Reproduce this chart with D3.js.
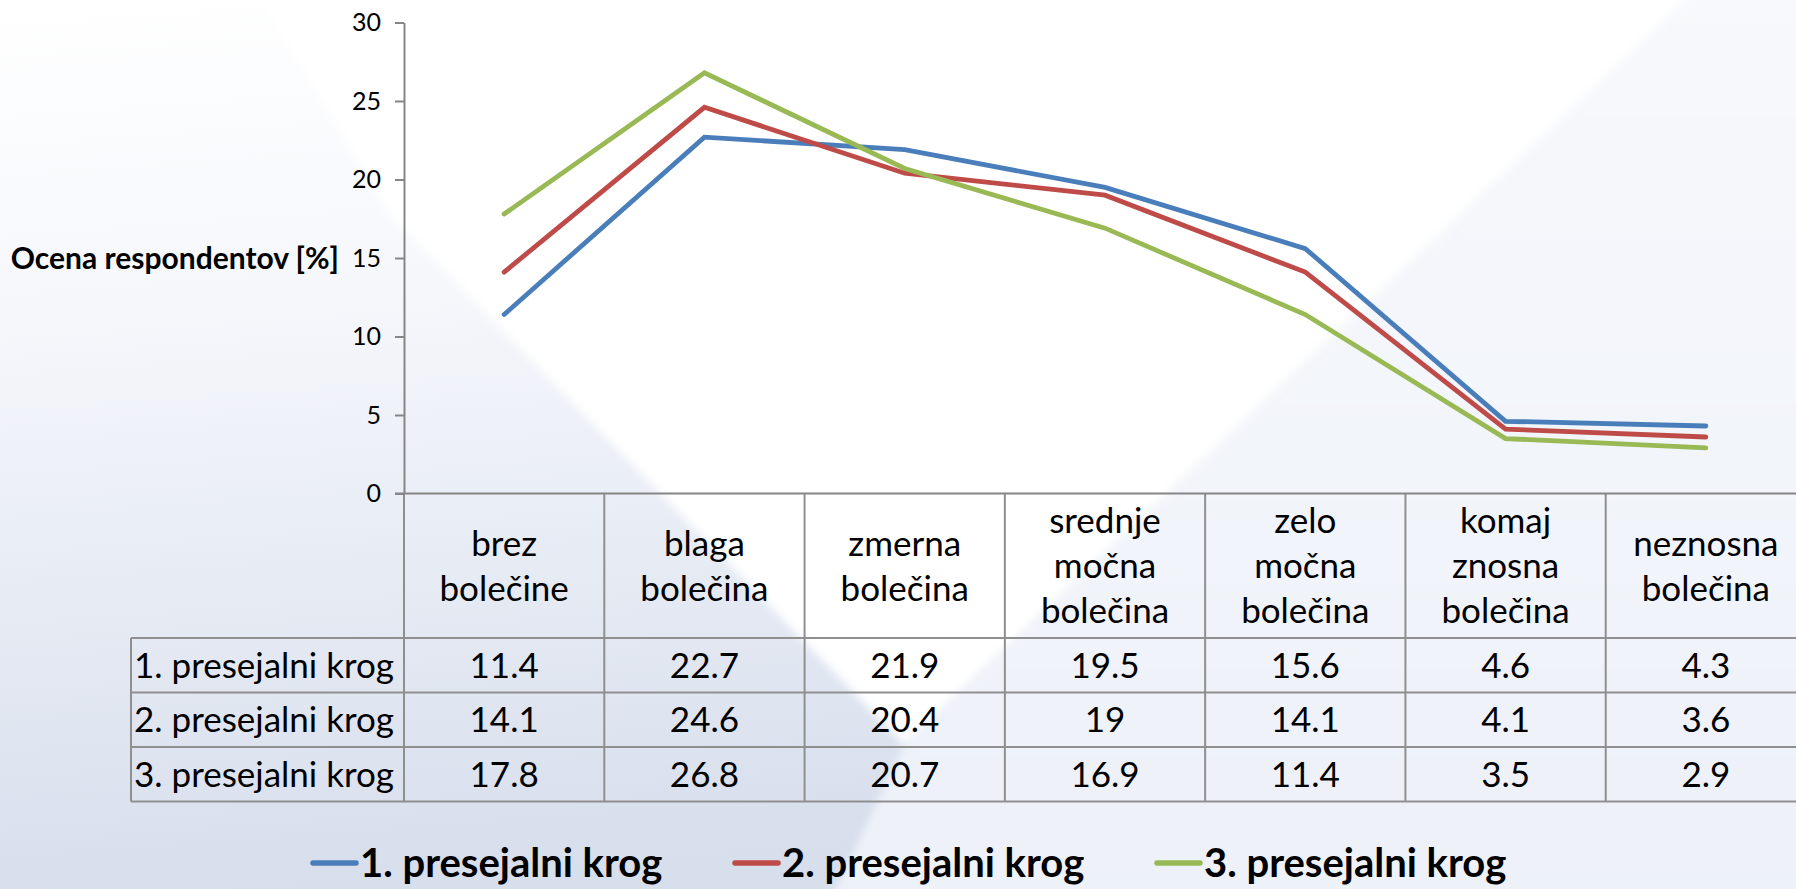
<!DOCTYPE html>
<html>
<head>
<meta charset="utf-8">
<script src="https://cdn.jsdelivr.net/npm/d3@7"></script>
<style>
html,body{margin:0;padding:0;overflow:hidden;background:#fff;}
svg{display:block;}
text{font-family:Lato, "Open Sans", sans-serif;fill:#000;}
</style>
</head>
<body>
<svg id="chart" width="1796" height="889"></svg>
<script>
// ---- data ----
const categories = ["brez bolečine","blaga bolečina","zmerna bolečina","srednje močna bolečina","zelo močna bolečina","komaj znosna bolečina","neznosna bolečina"];
const categoryLines = [["brez","bolečine"],["blaga","bolečina"],["zmerna","bolečina"],["srednje","močna","bolečina"],["zelo","močna","bolečina"],["komaj","znosna","bolečina"],["neznosna","bolečina"]];
const seriesNames = ["1. presejalni krog","2. presejalni krog","3. presejalni krog"];
const krog1 = [11.4,22.7,21.9,19.5,15.6,4.6,4.3];
const krog2 = [14.1,24.6,20.4,19,14.1,4.1,3.6];
const krog3 = [17.8,26.8,20.7,16.9,11.4,3.5,2.9];
const yTicks = [0,5,10,15,20,25,30];
const yTitle = "Ocena respondentov [%]";
const colors = ["#4a7ebb","#be4b48","#98b954"];

const seriesValues = [krog1,krog2,krog3];

// ---- layout ----
const W = 1796, H = 889;
const plotLeft = 404, plotRight = 1806, plotTop = 22.5, plotBottom = 493.5;
const headerBottom = 638, rowH = 54.5, tableLeft = 131;
const svg = d3.select("#chart");

// ---- background ----
const defs = svg.append("defs");
const g1 = defs.append("linearGradient").attr("id","bgGrad").attr("x1",0).attr("y1",0).attr("x2",0.15).attr("y2",1);
g1.append("stop").attr("offset","0%").attr("stop-color","#ffffff");
g1.append("stop").attr("offset","35%").attr("stop-color","#f5f7fb");
g1.append("stop").attr("offset","100%").attr("stop-color","#d7deec");
const g2 = defs.append("linearGradient").attr("id","rightGrad").attr("x1",0).attr("y1",0).attr("x2",0).attr("y2",1);
g2.append("stop").attr("offset","0%").attr("stop-color","#f8f9fc");
g2.append("stop").attr("offset","100%").attr("stop-color","#edf1f8");
const blur = defs.append("filter").attr("id","soft").attr("x","-10%").attr("y","-10%").attr("width","120%").attr("height","120%");
blur.append("feGaussianBlur").attr("stdDeviation",4);

svg.append("rect").attr("width",W).attr("height",H).attr("fill","url(#bgGrad)");
svg.append("polygon").attr("points","1700,-20 1820,-20 1820,900 830,900 905,745")
  .attr("fill","url(#rightGrad)").attr("filter","url(#soft)");
svg.append("polygon").attr("points","250,-20 1705,-20 905,745 390,215")
  .attr("fill","#ffffff").attr("filter","url(#soft)");

// ---- scales ----
const x = d3.scaleBand().domain(categories).range([plotLeft, plotRight]).paddingInner(0).paddingOuter(0);
const y = d3.scaleLinear().domain([0,30]).range([plotBottom, plotTop]);
const cx = c => x(c) + x.bandwidth()/2;

// ---- data table ----
const gridColor = "#8f8f8f";
const tableFont = 35;
const table = svg.append("g");
const rowsY = seriesNames.map((_,i) => headerBottom + i*rowH);
[headerBottom, headerBottom+rowH, headerBottom+2*rowH, headerBottom+3*rowH].forEach(yy => {
  table.append("line").attr("x1",tableLeft).attr("x2",W+20).attr("y1",yy).attr("y2",yy)
    .attr("stroke",gridColor).attr("stroke-width",2);
});
categories.forEach(c => {
  table.append("line").attr("x1",x(c)).attr("x2",x(c)).attr("y1",plotBottom).attr("y2",headerBottom+3*rowH)
    .attr("stroke",gridColor).attr("stroke-width",2);
});
table.append("line").attr("x1",tableLeft).attr("x2",tableLeft).attr("y1",headerBottom).attr("y2",headerBottom+3*rowH)
  .attr("stroke",gridColor).attr("stroke-width",2);

const headerMid = (plotBottom + headerBottom)/2, lineGap = 45;
categories.forEach((c,i) => {
  const lines = categoryLines[i];
  const t = table.append("text").attr("text-anchor","middle").attr("font-size",tableFont);
  lines.forEach((ln,j) => {
    t.append("tspan").attr("x",cx(c))
      .attr("y", headerMid + (j - (lines.length-1)/2)*lineGap)
      .attr("dy","0.35em").text(ln);
  });
});
seriesNames.forEach((name,i) => {
  const yc = rowsY[i] + rowH/2;
  table.append("text").attr("x",tableLeft+3).attr("y",yc).attr("dy","0.35em")
    .attr("font-size",tableFont).text(name);
  seriesValues[i].forEach((v,k) => {
    table.append("text").attr("x",cx(categories[k])).attr("y",yc).attr("dy","0.35em")
      .attr("text-anchor","middle").attr("font-size",tableFont).text(String(v));
  });
});

// ---- axes ----
const axisColor = "#868686";
const yAxis = svg.append("g").attr("transform",`translate(${plotLeft},0)`)
  .call(d3.axisLeft(y).tickValues(yTicks).tickSize(9).tickPadding(14).tickSizeOuter(0));
yAxis.select(".domain").attr("stroke",axisColor).attr("stroke-width",2);
yAxis.selectAll(".tick line").attr("stroke",axisColor).attr("stroke-width",2);
yAxis.selectAll(".tick text").attr("font-size",25).attr("font-family","Lato, sans-serif").attr("fill","#000");
svg.append("line").attr("x1",plotLeft-9).attr("x2",W+20).attr("y1",y(0)).attr("y2",y(0))
  .attr("stroke",axisColor).attr("stroke-width",2);

svg.append("text").attr("x",339).attr("y",y(15)).attr("dy","0.35em").attr("text-anchor","end")
  .attr("font-size",30).attr("font-weight","bold").text(yTitle);

// ---- lines ----
const line = d3.line().x((d,i) => cx(categories[i])).y(d => y(d));
seriesValues.forEach((vals,i) => {
  svg.append("path").datum(vals).attr("d",line).attr("fill","none")
    .attr("stroke",colors[i]).attr("stroke-width",4.8)
    .attr("stroke-linecap","round").attr("stroke-linejoin","miter");
});

// ---- legend ----
const legendY = 863;
const legendX = [311, 733, 1155];
seriesNames.forEach((name,i) => {
  const g = svg.append("g").attr("transform",`translate(${legendX[i]},${legendY})`);
  g.append("line").attr("x1",2).attr("x2",45).attr("y1",0).attr("y2",0)
    .attr("stroke",colors[i]).attr("stroke-width",5.5).attr("stroke-linecap","round");
  g.append("text").attr("x",49).attr("y",0).attr("dy","0.36em")
    .attr("font-size",40).attr("font-weight","bold").text(name);
});
</script>
</body>
</html>
